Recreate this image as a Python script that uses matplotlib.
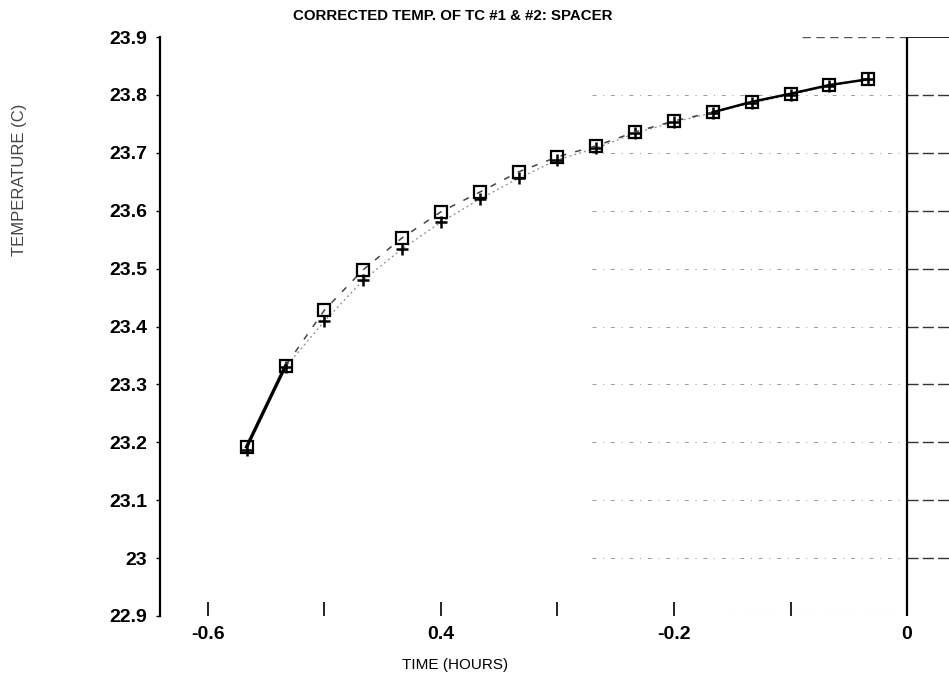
import matplotlib
matplotlib.use("Agg")
import matplotlib.pyplot as plt
from matplotlib.ticker import FixedLocator, NullFormatter

plt.rcParams['font.family'] = ['Liberation Sans', 'DejaVu Sans']

time_hours = [-0.5667, -0.5333, -0.5, -0.4667, -0.4333, -0.4, -0.3667, -0.3333,
              -0.3, -0.2667, -0.2333, -0.2, -0.1667, -0.1333, -0.1, -0.0667, -0.0333]
tc1 = [23.192, 23.332, 23.428, 23.498, 23.553, 23.598, 23.632, 23.667,
       23.693, 23.712, 23.736, 23.755, 23.770, 23.788, 23.802, 23.817, 23.827]
tc2 = [23.187, 23.330, 23.409, 23.480, 23.534, 23.580, 23.620, 23.656,
       23.688, 23.708, 23.734, 23.753, 23.769, 23.786, 23.800, 23.815, 23.827]

y_ticks = [22.9, 23.0, 23.1, 23.2, 23.3, 23.4, 23.5, 23.6, 23.7, 23.8, 23.9]
y_labels = ['22.9', '23', '23.1', '23.2', '23.3', '23.4', '23.5', '23.6', '23.7', '23.8', '23.9']
x_major = [-0.6, -0.4, -0.2, 0.0]
x_labels = ['-0.6', '0.4', '-0.2', '0']
x_minor = [-0.5, -0.3, -0.1]

title = 'CORRECTED TEMP. OF TC #1 & #2: SPACER'
xlabel = 'TIME (HOURS)'
ylabel = 'TEMPERATURE (C)'

W, H = 949, 684
fig = plt.figure(figsize=(W / 100, H / 100), dpi=100)
left, right, bottom, top = 160, 949, 616, 37
ax = fig.add_axes([left / W, 1 - bottom / H, (right - left) / W, (bottom - top) / H])
ax.set_xlim(-0.641, 0.036)
ax.set_ylim(22.9, 23.9)

for s in ['top', 'right', 'bottom']:
    ax.spines[s].set_visible(False)
ax.spines['left'].set_linewidth(1.6)

# grid lines (dash-dot), mostly on right part
for yv in y_ticks[1:-1]:
    ax.plot([-0.27, 0.0], [yv, yv], color='#999999', lw=0.7, ls=(0, (4, 7, 1, 7)), zorder=1)
    ax.plot([0.0, 0.036], [yv, yv], color='#333333', lw=1.0, ls=(0, (8, 3)), zorder=1)
ax.plot([-0.09, 0.0], [23.9, 23.9], color='#555555', lw=1.0, ls=(0, (6, 4)), zorder=1)
ax.plot([0.0, 0.036], [23.9, 23.9], color='black', lw=1.2, zorder=1)
ax.plot([-0.15, 0.0], [22.9, 22.9], color='#999999', lw=0.8, ls=(0, (3, 6)), zorder=1)
ax.plot([0.0, 0.0], [22.9, 23.9], color='black', lw=1.6, zorder=2)

ax.plot(time_hours, tc2, color='#888888', lw=0.9, ls=(0, (1.5, 2.5)),
        marker='+', markersize=9, markeredgewidth=1.8, markeredgecolor='black', zorder=3)
ax.plot(time_hours, tc1, color='#444444', lw=1.1, ls=(0, (4, 6)),
        marker='s', markersize=8, markerfacecolor='none', markeredgewidth=1.6,
        markeredgecolor='black', zorder=4)
# solid segments where both curves coincide
ax.plot(time_hours[:2], tc1[:2], color='black', lw=2.4, zorder=4)
ax.plot(time_hours[-5:], tc1[-5:], color='black', lw=1.8, zorder=4)

ax.yaxis.set_major_locator(FixedLocator(y_ticks))
ax.set_yticklabels(y_labels, fontsize=14, fontweight='bold')
ax.tick_params(axis='y', length=3, width=1, direction='out', pad=6)

ax.xaxis.set_major_locator(FixedLocator(x_major))
ax.set_xticklabels(x_labels, fontsize=14, fontweight='bold')
ax.xaxis.set_minor_locator(FixedLocator(x_minor))
ax.xaxis.set_minor_formatter(NullFormatter())
ax.tick_params(axis='x', which='both', length=10, width=1.2, direction='in', pad=7)

fig.text(453 / W, 1 - 16 / H, title, ha='center', va='center', fontsize=10.8, fontweight='bold')
fig.text(455 / W, 1 - 665 / H, xlabel, ha='center', va='center', fontsize=11)
fig.text(20 / W, 1 - 180 / H, ylabel, ha='center', va='center', rotation=90, fontsize=12,
         color='#444444')

fig.savefig('out.png', dpi=100)
